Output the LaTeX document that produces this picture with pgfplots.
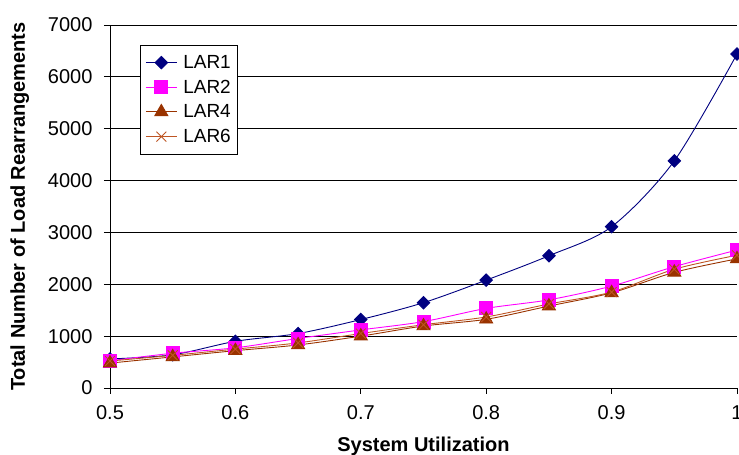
\documentclass[border=0pt]{standalone}
\usepackage{fontspec}
\setmainfont{Liberation Sans}
\usepackage{pgfplots}
\pgfplotsset{compat=1.18}
\definecolor{lar1}{RGB}{0,0,128}
\definecolor{lar2}{RGB}{255,0,255}
\definecolor{lar4}{RGB}{153,51,0}
\definecolor{lar6}{RGB}{190,85,35}
\begin{document}
\begin{tikzpicture}
\begin{axis}[
  name=ax,
  scale only axis,
  width=627bp, height=363bp,
  xmin=0.5, xmax=1, ymin=0, ymax=7000,
  clip=false,
  axis lines*=left,
  axis line style={black, line width=0.9bp},
  xtick={0.5,0.6,0.7,0.8,0.9,1},
  xticklabels={0.5,0.6,0.7,0.8,0.9,1},
  ytick={0,1000,2000,3000,4000,5000,6000,7000},
  yticklabels={0,1000,2000,3000,4000,5000,6000,7000},
  tick align=outside,
  major tick length=6bp,
  tick style={black, line width=0.9bp},
  ymajorgrids,
  grid style={black, line width=0.9bp},
  /pgf/number format/assume math mode=true,
  ticklabel style={font=\fontsize{20bp}{24bp}\selectfont},
  xticklabel style={yshift=-8bp},
  yticklabel style={xshift=-8bp},
  xlabel={System Utilization},
  ylabel={Total Number of Load Rearrangements},
  label style={font=\bfseries\fontsize{20bp}{24bp}\selectfont},
  xlabel style={at={(axis description cs:0.5,-0.1763)}, anchor=base},
  ylabel style={at={(axis description cs:-0.1356,0.5)}, anchor=base, rotate=0},
  legend style={at={(axis description cs:0.0478,0.945)}, anchor=north west,
    draw=black, line width=0.8bp, fill=white,
    row sep=6bp, column sep=4bp, inner xsep=5bp, inner ysep=8bp,
    nodes={font=\fontsize{19bp}{22bp}\selectfont}},
  legend cell align=left,
  legend image code/.code={\draw[mark repeat=2,mark phase=2] plot coordinates {(0bp,0bp) (15.5bp,0bp) (31bp,0bp)};},
]
\addplot[lar1, line width=0.9bp, smooth, mark=square*, mark size=4.4bp, mark options={rotate=45, fill=lar1, solid}] coordinates {
(0.5,560) (0.55,640) (0.6,900) (0.65,1050) (0.7,1320) (0.75,1645) (0.8,2080) (0.85,2550) (0.9,3110) (0.95,4380) (1.0,6440)};
\addlegendentry{LAR1\hspace{5bp}}
\addplot[lar2, line width=0.9bp, smooth, mark=square*, mark size=6.5bp, mark options={fill=lar2, solid}] coordinates {
(0.5,525) (0.55,670) (0.6,775) (0.65,955) (0.7,1120) (0.75,1280) (0.8,1535) (0.85,1700) (0.9,1965) (0.95,2340) (1.0,2660)};
\addlegendentry{LAR2\hspace{5bp}}
\addplot[lar4, line width=0.9bp, smooth, mark=triangle*, mark size=7.5bp, mark options={fill=lar4, solid}] coordinates {
(0.5,480) (0.55,600) (0.6,720) (0.65,830) (0.7,1000) (0.75,1195) (0.8,1325) (0.85,1580) (0.9,1835) (0.95,2230) (1.0,2490)};
\addlegendentry{LAR4\hspace{5bp}}
\addplot[lar6, line width=0.9bp, smooth, mark=x, mark size=7bp, mark options={solid}] coordinates {
(0.5,520) (0.55,630) (0.6,750) (0.65,870) (0.7,1050) (0.75,1220) (0.8,1370) (0.85,1620) (0.9,1850) (0.95,2290) (1.0,2560)};
\addlegendentry{LAR6\hspace{5bp}}
\end{axis}
\pgfresetboundingbox
\path[use as bounding box] ([shift={(-110bp,-67bp)}]ax.south west) rectangle ([shift={(2bp,25bp)}]ax.north east);
\end{tikzpicture}
\end{document}
